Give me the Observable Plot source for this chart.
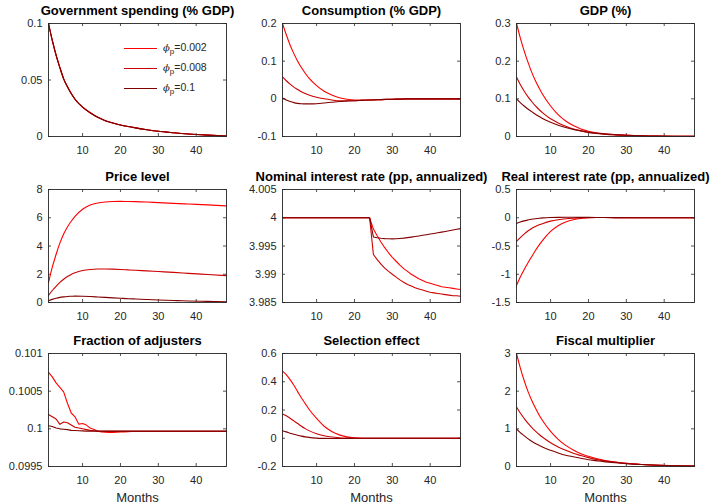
<!DOCTYPE html>
<html>
<head>
<meta charset="utf-8">
<script src="https://cdn.jsdelivr.net/npm/d3@7"></script>
<script src="https://cdn.jsdelivr.net/npm/@observablehq/plot@0.6"></script>
<style>
  body { margin: 0; background: #fff; }
  #chart { position: relative; width: 713px; height: 504px; font-family: "Liberation Sans", Arial, Helvetica, sans-serif; }
  .panel { position: absolute; }
  .legend { position: absolute; left: 124px; top: 37px; font-size: 10.5px; color: #262626; }
  .legend .row { height: 20px; line-height: 20px; white-space: nowrap; }
  .legend .swatch { display: inline-block; width: 33px; height: 0; border-top: 1.2px solid; vertical-align: middle; margin-right: 6px; }
  .legend i { font-family: "DejaVu Serif", serif; font-size: 10px; }
  .legend sub { font-size: 8px; }
</style>
</head>
<body>
<div id="chart"></div>
<script>
// Impulse responses to a government spending shock, months 1–48,
// for three values of the price-adjustment parameter phi_p.
const phiValues = ["0.002", "0.008", "0.1"];
const seriesColors = ["#ff0000", "#cc0000", "#800000"];

// Sampling months for the smooth responses
const months = [1, 2, 3, 4, 5, 6, 7, 8, 10, 12, 14, 16, 18, 20, 22, 24, 27, 30, 34, 38, 43, 48];
// Every month, for the responses with kinks and jumps
const monthsAll = [1, 2, 3, 4, 5, 6, 7, 8, 9, 10, 11, 12, 13, 14, 15, 16, 17, 18, 19, 20, 21, 22, 23, 24,
  25, 26, 27, 28, 29, 30, 31, 32, 33, 34, 35, 36, 37, 38, 39, 40, 41, 42, 43, 44, 45, 46, 47, 48];

const monthTicks = [10, 20, 30, 40];

// Government spending (% GDP): identical path for all phi_p
const govSpending = [0.1, 0.085, 0.072, 0.061, 0.051, 0.044, 0.038, 0.033, 0.026, 0.021, 0.017, 0.014, 0.012, 0.0102, 0.0088, 0.0076, 0.006, 0.0046, 0.0033, 0.0022, 0.0012, 0.0004];

// Consumption (% GDP)
const consumption002 = [0.2, 0.17, 0.143, 0.12, 0.1, 0.083, 0.068, 0.055, 0.035, 0.02, 0.01, 0.003, -0.001, -0.003, -0.003, -0.003, -0.002, -0.001, -0.0005, 0, 0, 0];
const consumption008 = [0.058, 0.048, 0.039, 0.031, 0.025, 0.019, 0.014, 0.01, 0.004, 0, -0.003, -0.005, -0.005, -0.005, -0.004, -0.003, -0.002, -0.001, 0, 0, 0, 0];
const consumption1 = [0.002, -0.003, -0.007, -0.010, -0.012, -0.013, -0.0135, -0.0135, -0.013, -0.011, -0.009, -0.007, -0.006, -0.005, -0.004, -0.003, -0.002, -0.001, 0, 0, 0, 0];

// GDP (%)
const gdp002 = [0.3, 0.262, 0.228, 0.198, 0.171, 0.148, 0.128, 0.11, 0.081, 0.058, 0.041, 0.029, 0.02, 0.014, 0.01, 0.0075, 0.005, 0.0035, 0.002, 0.0012, 0.0006, 0.0002];
const gdp008 = [0.158, 0.138, 0.121, 0.106, 0.093, 0.081, 0.071, 0.062, 0.047, 0.036, 0.027, 0.02, 0.015, 0.011, 0.008, 0.006, 0.004, 0.003, 0.0018, 0.001, 0.0005, 0.0002];
const gdp1 = [0.1, 0.09, 0.081, 0.073, 0.066, 0.059, 0.053, 0.047, 0.038, 0.03, 0.024, 0.019, 0.015, 0.011, 0.009, 0.007, 0.005, 0.0035, 0.002, 0.0012, 0.0006, 0.0002];

// Price level
const price002 = [1.4, 2.5, 3.4, 4.2, 4.85, 5.35, 5.75, 6.1, 6.6, 6.9, 7.05, 7.12, 7.15, 7.16, 7.15, 7.14, 7.11, 7.07, 7.02, 6.97, 6.91, 6.84];
const price008 = [0.5, 0.85, 1.15, 1.42, 1.65, 1.84, 1.99, 2.1, 2.26, 2.34, 2.37, 2.37, 2.36, 2.34, 2.31, 2.28, 2.24, 2.19, 2.13, 2.06, 1.98, 1.9];
const price1 = [0.12, 0.22, 0.3, 0.36, 0.4, 0.43, 0.44, 0.45, 0.44, 0.42, 0.39, 0.36, 0.33, 0.3, 0.27, 0.25, 0.21, 0.18, 0.14, 0.11, 0.08, 0.05];

// Nominal interest rate (pp, annualized): pegged for 24 months
const nominal002 = [4, 4, 4, 4, 4, 4, 4, 4, 4, 4, 4, 4, 4, 4, 4, 4, 4, 4, 4, 4, 4, 4, 4, 4,
  3.998, 3.9968, 3.9957, 3.9947, 3.9938, 3.993, 3.9923, 3.9916, 3.991, 3.9905, 3.99, 3.9896,
  3.9892, 3.9889, 3.9886, 3.9884, 3.9882, 3.988, 3.9878, 3.9877, 3.9876, 3.9875, 3.9874, 3.9873];
const nominal008 = [4, 4, 4, 4, 4, 4, 4, 4, 4, 4, 4, 4, 4, 4, 4, 4, 4, 4, 4, 4, 4, 4, 4, 4,
  3.9935, 3.9926, 3.9918, 3.9911, 3.9905, 3.99, 3.9895, 3.989, 3.9886, 3.9882, 3.9879, 3.9876,
  3.9874, 3.9872, 3.987, 3.9868, 3.9867, 3.9866, 3.9865, 3.9864, 3.9863, 3.9862, 3.9862, 3.9861];
const nominal1 = [4, 4, 4, 4, 4, 4, 4, 4, 4, 4, 4, 4, 4, 4, 4, 4, 4, 4, 4, 4, 4, 4, 4, 4,
  3.9966, 3.99645, 3.99636, 3.9963, 3.99627, 3.99626, 3.99629, 3.99634, 3.9964, 3.99648, 3.99657, 3.99667,
  3.99678, 3.99689, 3.997, 3.99711, 3.99722, 3.99734, 3.99746, 3.99758, 3.9977, 3.99782, 3.99795, 3.99808];

// Real interest rate (pp, annualized)
const real002 = [-1.2, -1.05, -0.92, -0.8, -0.69, -0.58, -0.48, -0.39, -0.24, -0.14, -0.075, -0.035, -0.012, 0, 0.005, 0.005, 0.003, 0.002, 0.001, 0, 0, 0];
const real008 = [-0.42, -0.35, -0.29, -0.235, -0.19, -0.155, -0.125, -0.1, -0.06, -0.035, -0.018, -0.008, -0.002, 0.002, 0.004, 0.004, 0.003, 0.002, 0.001, 0, 0, 0];
const real1 = [-0.1, -0.075, -0.055, -0.04, -0.027, -0.017, -0.009, -0.003, 0.004, 0.007, 0.008, 0.008, 0.007, 0.006, 0.005, 0.004, 0.002, 0.001, 0, 0, 0, 0];

// Fraction of adjusters
const adjusters002 = [0.10075, 0.10069, 0.10061, 0.10055, 0.10049, 0.10034, 0.10021, 0.10016, 0.10006, 0.10007, 0.10005, 0.10001,
  0.09999, 0.09997, 0.09996, 0.099955, 0.099953, 0.099953, 0.099955, 0.099957, 0.09996, 0.099962, 0.099965, 0.099965,
  0.099965, 0.099965, 0.099965, 0.099965, 0.099965, 0.099965, 0.099965, 0.099965, 0.099965, 0.099965, 0.099965, 0.099965,
  0.099965, 0.099965, 0.099965, 0.099965, 0.099965, 0.099965, 0.099965, 0.099965, 0.099965, 0.099965, 0.099965, 0.099965];
const adjusters008 = [0.10019, 0.10016, 0.10013, 0.10006, 0.10009, 0.10008, 0.10005, 0.10002, 0.10001, 0.1, 0.09999, 0.09998,
  0.099975, 0.09997, 0.099968, 0.099966, 0.099966, 0.099966, 0.099966, 0.099966, 0.099966, 0.099966, 0.099966, 0.099966,
  0.099966, 0.099966, 0.099966, 0.099966, 0.099966, 0.099966, 0.099966, 0.099966, 0.099966, 0.099966, 0.099966, 0.099966,
  0.099966, 0.099966, 0.099966, 0.099966, 0.099966, 0.099966, 0.099966, 0.099966, 0.099966, 0.099966, 0.099966, 0.099966];
const adjusters1 = [0.10004, 0.10003, 0.10001, 0.1, 0.099995, 0.09999, 0.09998, 0.099978, 0.099975, 0.099973, 0.09997, 0.09997,
  0.09997, 0.09997, 0.09997, 0.09997, 0.09997, 0.09997, 0.09997, 0.09997, 0.09997, 0.09997, 0.09997, 0.09997,
  0.09997, 0.09997, 0.09997, 0.09997, 0.09997, 0.09997, 0.09997, 0.09997, 0.09997, 0.09997, 0.09997, 0.09997,
  0.09997, 0.09997, 0.09997, 0.09997, 0.09997, 0.09997, 0.09997, 0.09997, 0.09997, 0.09997, 0.09997, 0.09997];

// Selection effect
const selection002 = [0.475, 0.45, 0.415, 0.375, 0.33, 0.285, 0.245, 0.205, 0.14, 0.085, 0.048, 0.024, 0.01, 0.003, 0, 0, 0, 0, 0, 0, 0, 0];
const selection008 = [0.172, 0.16, 0.142, 0.123, 0.104, 0.085, 0.068, 0.054, 0.032, 0.018, 0.009, 0.004, 0.001, 0, 0, 0, 0, 0, 0, 0, 0, 0];
const selection1 = [0.053, 0.045, 0.036, 0.028, 0.021, 0.015, 0.01, 0.006, 0.001, -0.001, -0.002, -0.002, -0.001, 0, 0, 0, 0, 0, 0, 0, 0, 0];

// Fiscal multiplier
const multiplier002 = [3.0, 2.62, 2.29, 2.0, 1.76, 1.55, 1.36, 1.2, 0.93, 0.72, 0.56, 0.44, 0.34, 0.27, 0.21, 0.165, 0.12, 0.085, 0.055, 0.035, 0.02, 0.01];
const multiplier008 = [1.58, 1.42, 1.28, 1.15, 1.04, 0.94, 0.85, 0.77, 0.63, 0.52, 0.43, 0.35, 0.29, 0.235, 0.19, 0.155, 0.115, 0.083, 0.055, 0.036, 0.02, 0.01];
const multiplier1 = [1.0, 0.9, 0.82, 0.74, 0.67, 0.61, 0.56, 0.51, 0.43, 0.36, 0.3, 0.26, 0.22, 0.18, 0.155, 0.13, 0.1, 0.075, 0.052, 0.035, 0.02, 0.01];

// Panel definitions (row-major, 3 x 3)
const panels = [
  {title: "Government spending (% GDP)", x: months, series: [govSpending, govSpending, govSpending], domain: [0, 0.1], ticks: [0, 0.05, 0.1], curve: "monotone-x"},
  {title: "Consumption (% GDP)", x: months, series: [consumption002, consumption008, consumption1], domain: [-0.1, 0.2], ticks: [-0.1, 0, 0.1, 0.2], curve: "monotone-x"},
  {title: "GDP (%)", x: months, series: [gdp002, gdp008, gdp1], domain: [0, 0.3], ticks: [0, 0.1, 0.2, 0.3], curve: "monotone-x"},
  {title: "Price level", x: months, series: [price002, price008, price1], domain: [0, 8], ticks: [0, 2, 4, 6, 8], curve: "monotone-x"},
  {title: "Nominal interest rate (pp, annualized)", x: monthsAll, series: [nominal002, nominal008, nominal1], domain: [3.985, 4.005], ticks: [3.985, 3.99, 3.995, 4, 4.005], curve: "linear"},
  {title: "Real interest rate (pp, annualized)", x: months, series: [real002, real008, real1], domain: [-1.5, 0.5], ticks: [-1.5, -1, -0.5, 0, 0.5], curve: "monotone-x"},
  {title: "Fraction of adjusters", x: monthsAll, series: [adjusters002, adjusters008, adjusters1], domain: [0.0995, 0.101], ticks: [0.0995, 0.1, 0.1005, 0.101], curve: "linear"},
  {title: "Selection effect", x: months, series: [selection002, selection008, selection1], domain: [-0.2, 0.6], ticks: [-0.2, 0, 0.2, 0.4, 0.6], curve: "monotone-x"},
  {title: "Fiscal multiplier", x: months, series: [multiplier002, multiplier008, multiplier1], domain: [0, 3], ticks: [0, 1, 2, 3], curve: "monotone-x"}
];

// Grid geometry of the axes boxes
const frameW = 178, frameH = 113;
const mLeft = 48, mRight = 14, mTop = 26, mBottom = 40;
const colLeft = [47.5, 281.5, 515.5];
const rowTop = [23, 189, 353];
const axisColor = "#262626";
const tickLen = 3;

const chart = document.getElementById("chart");

panels.forEach((p, i) => {
  const row = Math.floor(i / 3), col = i % 3;
  const data = [];
  p.series.forEach((vals, s) => vals.forEach((v, j) => data.push({month: p.x[j], value: v, s})));

  const marks = [
    // inward tick marks on all four sides
    Plot.ruleX(monthTicks, {x: d => d, insetTop: frameH - tickLen, stroke: axisColor, strokeWidth: 0.8}),
    Plot.ruleX(monthTicks, {x: d => d, insetBottom: frameH - tickLen, stroke: axisColor, strokeWidth: 0.8}),
    Plot.ruleY(p.ticks, {y: d => d, insetRight: frameW - tickLen, stroke: axisColor, strokeWidth: 0.8}),
    Plot.ruleY(p.ticks, {y: d => d, insetLeft: frameW - tickLen, stroke: axisColor, strokeWidth: 0.8}),
    Plot.line(data, {x: "month", y: "value", z: "s", stroke: "s", strokeWidth: 1.1, curve: p.curve}),
    Plot.frame({stroke: axisColor, strokeWidth: 0.9}),
    Plot.axisX({ticks: monthTicks, tickSize: 0, tickPadding: 10, tickFormat: d => String(d), label: null, fontSize: 11, color: axisColor}),
    Plot.axisY({ticks: p.ticks, tickSize: 0, tickPadding: 6, tickFormat: d => String(d), label: null, fontSize: 11, color: axisColor}),
    Plot.text([p.title], {frameAnchor: "top", dy: -9, lineAnchor: "bottom", fontWeight: "bold", fontSize: 13, fill: "#000"})
  ];
  if (row === 2) {
    marks.push(Plot.text(["Months"], {frameAnchor: "bottom", dy: 31, lineAnchor: "middle", fontSize: 13, fill: axisColor}));
  }

  const svg = Plot.plot({
    width: frameW + mLeft + mRight,
    height: frameH + mTop + mBottom,
    marginLeft: mLeft, marginRight: mRight, marginTop: mTop, marginBottom: mBottom,
    x: {domain: [1, 48]},
    y: {domain: p.domain},
    color: {type: "ordinal", domain: [0, 1, 2], range: seriesColors},
    style: {background: "transparent", overflow: "visible", fontFamily: "\"Liberation Sans\", Arial, Helvetica, sans-serif", fontSize: "11px"},
    marks
  });
  svg.classList.add("panel");
  svg.style.left = (colLeft[col] - mLeft) + "px";
  svg.style.top = (rowTop[row] - mTop) + "px";
  chart.appendChild(svg);
});

// Legend inside the first panel
const legend = d3.select(chart).append("div").attr("class", "legend");
phiValues.forEach((phi, k) => {
  const r = legend.append("div").attr("class", "row");
  r.append("span").attr("class", "swatch").style("border-top-color", seriesColors[k]);
  r.append("span").html(`<i>ϕ</i><sub>p</sub>=${phi}`);
});
</script>
</body>
</html>
